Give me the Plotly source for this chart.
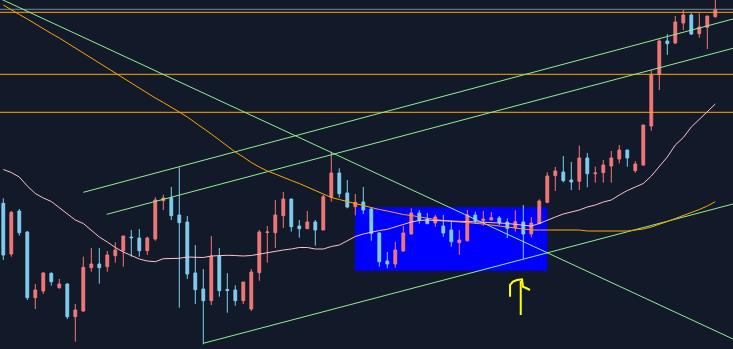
import plotly.graph_objects as go

# ---------------- data ----------------
idx = list(range(90))

open_ = [145.7, 95, 138, 117, 51.3, 58, 75.7, 61.3, 65, 32.3,
         38, 81.3, 85, 82.3, 93.3, 98.3, 112, 111, 98.3, 110,
         148.3, 151.3, 134, 127, 76, 60, 48.3, 93, 59.5, 59,
         48.3, 40, 76.3, 116.5, 116.3, 133.3, 150, 123, 120.3, 127,
         119, 151.7, 176, 156, 142.3, 147, 140, 116, 88, 85,
         98, 115, 136, 130, 126, 123, 119, 106.3, 108.3, 134,
         128.3, 129, 131, 127, 121, 127, 115, 125.3, 146.7, 173.3,
         177, 169, 167.7, 191, 175.3, 176.3, 183, 190, 199, 178.3,
         184, 223, 274.7, 308, 306, 326, 334, 315.3, 321.7, 332.3]
high = [150.7, 138, 140, 118, 65, 76.7, 76.7, 70, 65.7, 45,
        92.3, 101, 101, 98, 106.7, 113, 119, 120, 112.3, 151.7,
        154.3, 162, 181.7, 133, 104, 80, 113, 101, 76, 63.7,
        67, 80, 119, 123, 149, 157, 150, 129, 138, 129,
        154, 197.3, 180.7, 169, 155, 162, 141.7, 116.7, 97, 107,
        123, 140.7, 139, 136, 134, 134, 127.3, 119, 139, 137.3,
        138, 137, 133, 130.7, 138.7, 144, 132, 149.7, 176.7, 182,
        193, 187, 203.3, 196, 182.3, 189, 198, 204, 199, 188,
        224, 279, 309.7, 315, 333, 339, 335.7, 335.7, 333, 352]
low = [89, 92.3, 113.3, 49, 40, 55, 63.3, 60.3, 30, 7.3,
       37.3, 77.3, 65.3, 77.3, 86.3, 82.3, 92.3, 92.3, 94, 108.3,
       139, 129, 41.3, 70, 45, 4.7, 44, 52.3, 36.3, 43.3,
       45, 38, 68.3, 86.3, 101, 121, 117.3, 111.3, 120.3, 103.3,
       119, 147.3, 151.3, 140.7, 133.7, 135, 108.3, 82.3, 80.7, 81.3,
       97.3, 114.3, 125.3, 125.3, 122.3, 112.3, 102.3, 94, 107.3, 125,
       123.3, 129, 124, 111, 117.3, 89.7, 111.7, 125.3, 145.7, 158,
       166.7, 159, 159, 161.7, 166.3, 166.3, 166.3, 185.7, 182.3, 176.3,
       183, 218.3, 259, 294, 305, 319, 314, 311.3, 300, 331.3]
close = [94, 136.7, 116.3, 51.3, 59, 76, 67.3, 65, 32.3, 39,
         81.7, 85, 81.3, 94, 99, 113, 111.3, 98.3, 111, 149,
         151, 133.3, 126.3, 75, 59.3, 48.3, 93, 58.3, 58.5, 48.3,
         67, 77, 117, 117, 134, 150, 122.3, 120.3, 127, 119,
         152.3, 176, 155.3, 142, 146.7, 139, 115.7, 87.3, 85, 99,
         116, 136, 128.7, 125.3, 132, 116, 107.3, 109, 134, 128.3,
         130, 131.3, 126.3, 120.7, 127.3, 115, 126, 148, 173, 178,
         168.3, 167, 191, 175.3, 176, 184, 191, 199, 191, 185,
         224, 274, 308, 305.3, 327, 334, 315, 322, 333, 339.7]

ma_long = [344, 339, 334.5, 330, 325, 320, 315.5, 311, 306, 301,
           296, 291, 286, 280.5, 275.5, 270.5, 266, 261, 256, 251,
           246.5, 242, 237, 232, 226.5, 221, 215, 209, 203, 197,
           192, 186.5, 182, 178, 175, 171.5, 168.5, 165.5, 162, 158.5,
           155, 151.5, 149.5, 147.5, 145, 143, 141, 139.5, 138, 136,
           134.5, 133.5, 132, 130.5, 129.5, 128.5, 127.5, 127, 126.5, 126,
           125, 124, 123, 122, 121, 120, 119, 119, 119, 119,
           119, 119, 119, 118, 118, 118, 117.7, 117.7, 118, 119,
           120, 122, 124.5, 127.5, 130.5, 133.5, 136, 139.5, 143, 147.3]
ma_short = [179.5, 176.5, 172, 163, 155.5, 151, 147.5, 141.5, 135, 129,
            125.5, 119, 112, 107, 101.5, 97, 93.5, 90, 88, 87.3,
            90.3, 90.7, 90.7, 92, 91.5, 91.5, 93, 93.5, 93.7, 93.5,
            93, 93.5, 95, 96.5, 98, 99, 100, 101.5, 101.5, 100,
            100, 102.5, 104, 108, 112.5, 115, 117, 118.5, 119.7, 122,
            125, 127, 128.5, 129, 128.5, 128, 128, 127.7, 127.5, 127.3,
            127, 126.5, 126, 125.5, 124.5, 123.5, 123, 125.5, 129, 132,
            135, 137, 139, 142, 144, 147, 149, 154, 158.5, 162,
            165.5, 173, 182, 192, 204, 211.5, 222, 230, 237.3, 245]

# horizontal levels
orange_levels = [336.7, 274.7, 236.7]
gray_level = 339.7

# trend lines: (x0, y0, x1, y1) in index / price units
trend_lines = [
    (-0.41, 350.4, 91.21, 10.0),    # falling line
    (10.01, 156.7, 91.21, 330.0),   # upper channel
    (12.93, 134.7, 91.21, 300.7),   # middle channel
    (25.0, 5.7, 91.21, 145.0),      # lower support
]

# highlighted zone
zone_x = (43.96, 68.0)
zone_y = (78.3, 141.7)

# hand drawn arrow
arrow_hook_x = [63.34, 63.34, 63.71, 64.21, 64.84, 64.96, 65.34, 65.84]
arrow_hook_y = [52.3, 64, 67.3, 69, 69.7, 62.3, 61, 59]
arrow_stem_x = [64.68, 64.68]
arrow_stem_y = [68, 34]

# ---------------- figure ----------------
BG = "#121a2a"
RED = "#f07878"
BLUE = "#7fcdee"
GREEN = "#90ee90"
ORANGE = "#ffa500"
PINK = "#ffc0cb"
GRAY = "#778899"

fig = go.Figure()

X_MIN, X_MAX = -0.4125, 91.2125

fig.add_trace(go.Scatter(x=[X_MIN, X_MAX], y=[gray_level, gray_level], mode="lines",
                         line=dict(color=GRAY, width=1), hoverinfo="skip"))
for lv in orange_levels:
    fig.add_trace(go.Scatter(x=[X_MIN, X_MAX], y=[lv, lv], mode="lines",
                             line=dict(color=ORANGE, width=1), hoverinfo="skip"))
for (x0, y0, x1, y1) in trend_lines:
    fig.add_trace(go.Scatter(x=[x0, x1], y=[y0, y1], mode="lines",
                             line=dict(color=GREEN, width=1), hoverinfo="skip"))

fig.add_trace(go.Scatter(x=idx, y=ma_long, mode="lines",
                         line=dict(color=ORANGE, width=1), hoverinfo="skip"))
fig.add_trace(go.Scatter(x=idx, y=ma_short, mode="lines",
                         line=dict(color=PINK, width=1), hoverinfo="skip"))

fig.add_trace(go.Candlestick(
    x=idx, open=open_, high=high, low=low, close=close,
    increasing=dict(line=dict(color=RED, width=1), fillcolor=RED),
    decreasing=dict(line=dict(color=BLUE, width=1), fillcolor=BLUE),
    whiskerwidth=0, hoverinfo="skip"))

fig.add_trace(go.Scatter(x=arrow_hook_x, y=arrow_hook_y, mode="lines",
                         line=dict(color="#ffff00", width=2), hoverinfo="skip"))
fig.add_trace(go.Scatter(x=arrow_stem_x, y=arrow_stem_y, mode="lines",
                         line=dict(color="#ffff00", width=2), hoverinfo="skip"))

fig.add_shape(type="rect", xref="x", yref="y",
              x0=zone_x[0], x1=zone_x[1], y0=zone_y[0], y1=zone_y[1],
              fillcolor="#0000ff", line=dict(width=0), layer="below")

fig.update_layout(
    width=733, height=349,
    margin=dict(l=0, r=0, t=0, b=0, pad=0),
    paper_bgcolor=BG, plot_bgcolor=BG,
    showlegend=False, hovermode=False,
    boxgap=0.5,
    xaxis=dict(range=[X_MIN, X_MAX], visible=False, showgrid=False,
               zeroline=False, rangeslider=dict(visible=False)),
    yaxis=dict(range=[0, 349], visible=False, showgrid=False, zeroline=False),
)

fig.write_html("out.html", config={"displayModeBar": False})
